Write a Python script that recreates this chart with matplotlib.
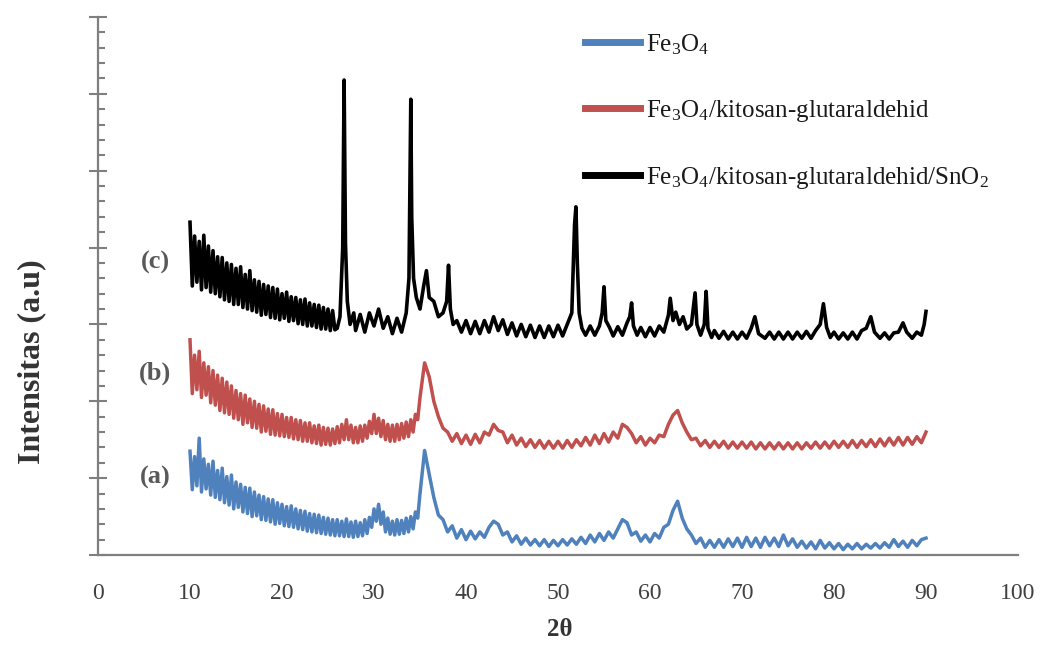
import numpy as np
import matplotlib
matplotlib.use("Agg")
import matplotlib.pyplot as plt
from matplotlib.ticker import MultipleLocator

plt.rcParams["font.family"] = ["Liberation Serif", "DejaVu Serif"]
plt.rcParams["mathtext.fontset"] = "custom"
plt.rcParams["mathtext.rm"] = "Liberation Serif"
plt.rcParams["mathtext.it"] = "Liberation Serif:italic"
plt.rcParams["mathtext.bf"] = "Liberation Serif:bold"

# --- data (2theta in degrees, intensity in arbitrary units) ---
# noisy low-angle part is read on a finer step than the rest
TWO_THETA_FINE = np.arange(10.0, 35.0, 0.25)
TWO_THETA = np.arange(35.0, 90.5, 0.5)

FE3O4_FINE = [
    13.5, 8.5, 12.8, 9.0, 15.2, 8.2, 12.5, 8.6, 11.8, 7.8,
    12.2, 7.5, 11.0, 7.2, 11.3, 6.8, 10.2, 6.5, 10.4, 6.0,
    9.5, 6.2, 9.2, 5.6, 8.8, 5.4, 8.7, 5.0, 8.2, 5.1,
    7.8, 4.6, 7.6, 4.5, 7.3, 4.3, 7.2, 4.0, 6.8, 4.1,
    6.6, 3.8, 6.3, 3.7, 6.4, 3.6, 6.0, 3.4, 5.8, 3.3,
    5.7, 3.1, 5.4, 3.0, 5.3, 2.9, 5.2, 2.8, 4.9, 2.7,
    4.8, 2.6, 4.6, 2.5, 4.6, 2.5, 4.4, 2.4, 4.7, 2.4,
    4.3, 2.3, 4.4, 2.4, 4.2, 2.5, 4.6, 2.8, 4.9, 3.6,
    6.0, 4.4, 6.6, 4.0, 5.6, 3.0, 4.8, 2.7, 4.4, 2.6,
    4.6, 2.7, 4.5, 2.8, 4.8, 3.0, 5.0, 3.4, 5.6, 4.8,
]
FE3O4 = [
    8.0, 13.6, 10.5, 7.5, 5.2, 4.6, 3.0, 3.8, 2.2, 3.3,
    2.0, 3.1, 2.1, 3.0, 2.3, 3.6, 4.4, 4.0, 2.6, 3.0,
    1.7, 2.5, 1.4, 2.2, 1.3, 2.0, 1.2, 2.0, 1.1, 1.9,
    1.2, 2.0, 1.3, 2.1, 1.4, 2.3, 1.5, 2.6, 1.7, 2.8,
    1.9, 3.0, 2.2, 3.4, 4.6, 4.2, 2.6, 3.0, 1.8, 2.6,
    1.7, 2.8, 2.2, 3.6, 4.0, 5.8, 7.0, 4.8, 3.4, 2.6,
    1.5, 2.2, 1.0, 1.9, 1.0, 2.0, 1.0, 2.1, 1.1, 2.2,
    1.0, 2.3, 1.1, 2.2, 1.0, 2.3, 1.2, 2.2, 1.1, 2.6,
    1.2, 2.1, 1.0, 1.8, 0.9, 1.7, 0.8, 1.9, 0.9, 1.6,
    0.8, 1.5, 0.7, 1.4, 0.8, 1.5, 0.8, 1.4, 0.9, 1.5,
    0.9, 1.6, 1.0, 2.0, 1.1, 1.8, 1.0, 1.9, 1.2, 2.0,
    2.2,
]

FE3O4_KG_FINE = [
    28.0, 21.0, 26.0, 21.5, 26.5, 20.5, 25.0, 20.8, 24.5, 19.8,
    24.0, 19.5, 23.4, 18.8, 23.0, 18.5, 22.5, 18.3, 22.0, 17.8,
    21.4, 17.6, 21.0, 17.0, 20.8, 17.2, 20.3, 16.6, 20.0, 16.5,
    19.6, 16.0, 19.4, 16.1, 19.0, 15.7, 18.9, 15.6, 18.4, 15.5,
    18.3, 15.4, 17.9, 15.3, 17.9, 15.1, 17.6, 15.0, 17.5, 14.8,
    17.2, 14.8, 17.2, 14.6, 16.8, 14.5, 16.9, 14.3, 16.6, 14.4,
    16.5, 14.3, 16.4, 14.5, 16.7, 14.6, 17.0, 15.0, 17.6, 15.0,
    16.9, 14.6, 16.6, 14.6, 16.8, 14.8, 16.9, 15.2, 17.4, 15.8,
    18.3, 15.8, 17.8, 15.4, 17.5, 15.0, 17.0, 14.8, 16.9, 14.8,
    17.0, 15.0, 17.1, 15.2, 17.3, 15.4, 17.6, 16.0, 18.3, 17.6,
]
FE3O4_KG = [
    20.5, 25.0, 23.2, 20.0, 18.0, 16.5, 16.0, 14.8, 15.8, 14.5,
    15.6, 14.4, 15.7, 14.6, 16.0, 15.6, 17.0, 16.2, 16.0, 14.6,
    15.6, 14.3, 15.2, 14.1, 15.0, 14.0, 14.9, 13.9, 14.8, 13.9,
    14.8, 13.9, 14.9, 14.0, 15.0, 14.2, 15.3, 14.3, 15.6, 14.5,
    15.8, 14.7, 16.0, 15.2, 17.0, 16.6, 15.8, 14.6, 15.4, 14.3,
    15.2, 14.6, 15.6, 15.4, 17.0, 18.2, 18.8, 17.2, 16.0, 15.0,
    15.2, 14.2, 14.9, 14.0, 14.8, 14.0, 14.8, 13.9, 14.7, 13.9,
    14.7, 13.9, 14.7, 13.8, 14.6, 13.8, 14.6, 13.8, 14.6, 13.8,
    14.6, 13.8, 14.6, 13.8, 14.6, 13.9, 14.7, 13.9, 14.7, 13.9,
    14.8, 14.0, 14.8, 14.0, 14.9, 14.0, 14.9, 14.1, 15.0, 14.1,
    15.1, 14.2, 15.2, 14.3, 15.3, 14.3, 15.3, 14.4, 15.4, 14.6,
    16.0,
]

# SnO2 composite: fine step below 26 deg, then its own grid around the sharp reflections
SNO2_FINE_X = np.arange(10.0, 26.0, 0.25)
SNO2_FINE_Y = [
    43.3, 35.0, 41.5, 35.5, 40.8, 34.5, 41.6, 34.8, 40.2, 34.2,
    39.6, 34.0, 38.8, 33.6, 38.7, 33.2, 38.0, 33.0, 37.8, 32.6,
    37.3, 32.6, 37.5, 32.2, 36.5, 32.0, 37.0, 31.8, 35.8, 31.6,
    35.6, 31.2, 35.2, 31.3, 35.0, 30.9, 34.8, 30.8, 34.6, 30.6,
    34.0, 30.8, 34.2, 30.4, 33.6, 30.5, 33.5, 30.1, 33.2, 30.0,
    33.3, 29.8, 32.8, 29.8, 32.6, 29.6, 32.5, 29.4, 32.2, 29.4,
    32.0, 29.2, 31.8, 29.3,
]
SNO2_X = [
    26.0, 26.3, 26.6, 26.75, 26.9,
    27.1, 27.4, 27.8, 28.0, 28.5, 29.0, 29.5, 30.0, 30.5, 31.0,
    31.5, 32.0, 32.5, 33.0, 33.5, 33.8, 34.0, 34.1, 34.3, 34.6,
    35.0, 35.4, 35.7, 36.0, 36.5, 37.0, 37.5, 37.9, 38.1, 38.3,
    38.6, 39.0, 39.5, 40.0, 40.5, 41.0, 41.5, 42.0, 42.5, 43.0,
    43.5, 44.0, 44.5, 45.0, 45.5, 46.0, 46.5, 47.0, 47.5, 48.0,
    48.5, 49.0, 49.5, 50.0, 50.5, 51.0, 51.5, 51.8, 51.95, 52.1,
    52.3, 52.6, 53.0, 53.5, 54.0, 54.5, 54.8, 55.0, 55.2, 55.6,
    56.0, 56.5, 57.0, 57.5, 57.8, 58.0, 58.2, 58.6, 59.0, 59.5,
    60.0, 60.5, 61.0, 61.5, 62.0, 62.2, 62.5, 62.8, 63.2, 63.6,
    64.0, 64.5, 64.9, 65.1, 65.5, 65.9, 66.1, 66.3, 66.7, 67.0,
    67.5, 68.0, 68.5, 69.0, 69.5, 70.0, 70.5, 71.0, 71.4, 71.8,
    72.5, 73.0, 73.5, 74.0, 74.5, 75.0, 75.5, 76.0, 76.5, 77.0,
    77.5, 78.0, 78.5, 78.85, 79.2, 79.6, 80.0, 80.5, 81.0, 81.5,
    82.0, 82.5, 83.0, 83.5, 84.0, 84.4, 85.0, 85.5, 86.0, 86.5,
    87.0, 87.5, 87.9, 88.5, 89.0, 89.5, 89.8, 90.0,
]
SNO2_Y = [
    29.5, 31.0, 40.0, 61.8, 40.5,
    33.0, 30.0, 31.5, 29.2, 31.3, 29.0, 31.5, 29.8, 32.0, 29.5,
    31.0, 28.8, 30.8, 29.0, 31.5, 36.0, 59.3, 44.0, 36.0, 33.5,
    32.0, 35.0, 37.0, 33.5, 33.0, 31.0, 31.5, 33.0, 37.7, 32.0,
    30.0, 30.5, 29.0, 30.5, 28.8, 30.4, 28.8, 30.5, 29.0, 31.0,
    29.2, 30.6, 28.7, 30.2, 28.5, 30.0, 28.4, 29.9, 28.3, 29.8,
    28.3, 29.8, 28.4, 29.9, 28.5, 30.0, 31.5, 43.0, 45.3, 38.0,
    31.5, 29.5, 28.6, 29.8, 28.6, 29.8, 31.5, 34.9, 30.5, 29.6,
    28.5, 29.7, 28.6, 30.2, 31.0, 32.8, 29.8, 28.6, 29.6, 28.4,
    29.6, 28.5, 29.8, 29.0, 31.2, 33.4, 30.5, 31.6, 30.0, 31.0,
    29.4, 30.0, 34.1, 30.0, 28.6, 30.0, 34.3, 29.5, 28.3, 29.2,
    28.2, 29.1, 28.1, 29.0, 28.1, 29.0, 28.2, 29.5, 31.0, 28.8,
    28.2, 29.0, 28.1, 29.0, 28.1, 29.0, 28.1, 29.0, 28.2, 29.1,
    28.2, 29.2, 30.0, 32.7, 29.6, 28.3, 29.0, 28.1, 28.9, 28.1,
    29.0, 28.1, 29.2, 29.5, 31.0, 29.0, 28.2, 28.9, 28.1, 28.9,
    29.0, 30.2, 29.0, 28.2, 29.0, 28.6, 30.0, 31.7,
]

LABELS = [
    "Fe$_3$O$_4$",
    "Fe$_3$O$_4$/kitosan-glutaraldehid",
    "Fe$_3$O$_4$/kitosan-glutaraldehid/SnO$_2$",
]
COLORS = ["#4f81bd", "#c0504d", "#000000"]
CURVE_TAGS = ["(a)", "(b)", "(c)"]
TAG_POS = [(6.2, 10.1), (6.2, 23.7), (6.2, 38.0)]

W, H = 1044, 645
fig = plt.figure(figsize=(W / 100, H / 100), dpi=100)
ax = fig.add_axes([98 / W, 90 / H, 920 / W, 538 / H])

lines = []
lines += ax.plot(np.concatenate([TWO_THETA_FINE, TWO_THETA]), FE3O4_FINE + FE3O4,
                 color=COLORS[0], lw=2.5, label=LABELS[0])
lines += ax.plot(np.concatenate([TWO_THETA_FINE, TWO_THETA]), FE3O4_KG_FINE + FE3O4_KG,
                 color=COLORS[1], lw=2.5, label=LABELS[1])
lines += ax.plot(np.concatenate([SNO2_FINE_X, SNO2_X]), SNO2_FINE_Y + SNO2_Y,
                 color=COLORS[2], lw=2.6, label=LABELS[2])

ax.set_xlim(0, 100)
ax.set_ylim(0, 70)
ax.xaxis.set_major_locator(MultipleLocator(10))
ax.yaxis.set_major_locator(MultipleLocator(10))
ax.yaxis.set_minor_locator(MultipleLocator(2))
ax.set_yticklabels([])

for side in ["top", "right"]:
    ax.spines[side].set_visible(False)
for side in ["left", "bottom"]:
    ax.spines[side].set_color("#7f7f7f")
    ax.spines[side].set_linewidth(1.6)

ax.tick_params(axis="x", length=0, pad=20, labelsize=17, labelcolor="#404040")
ax.tick_params(axis="y", which="major", direction="inout", length=13, width=1.5, color="#7f7f7f")
ax.tick_params(axis="y", which="minor", direction="in", length=5, width=1.5, color="#7f7f7f")

for tag, (tx, ty) in zip(CURVE_TAGS, TAG_POS):
    ax.text(tx, ty, tag, ha="center", va="center", fontsize=19,
            fontweight="bold", color="#595959")

fig.text(32 / W, 1 - 362 / H, "Intensitas (a.u)", rotation=90, ha="center",
         va="center", fontsize=23, fontweight="bold", color="#333333")
fig.text(560 / W, 1 - 630 / H, "2θ", ha="center", va="center",
         fontsize=18, fontweight="bold", color="#333333")

leg = ax.legend(handles=lines, loc="upper left",
                bbox_to_anchor=(585 / W, 1 - 32 / H), bbox_transform=fig.transFigure,
                frameon=False, fontsize=18, handlelength=2.2, handletextpad=0.25,
                labelspacing=1.65, borderpad=0, borderaxespad=0)
for ln in leg.get_lines():
    ln.set_linewidth(5)
for txt in leg.get_texts():
    txt.set_color("#1a1a1a")

fig.savefig("out.png", dpi=100)
